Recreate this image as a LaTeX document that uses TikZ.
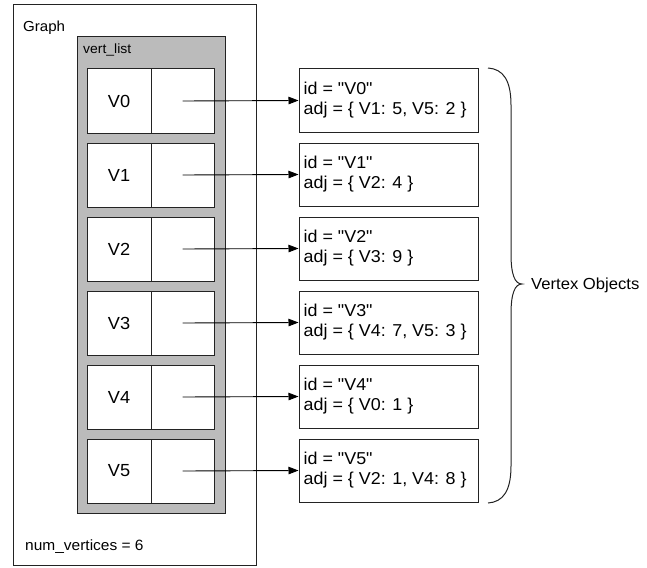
\documentclass[tikz,border=0pt]{standalone}
\usepackage{fontspec}
\setmainfont{Liberation Sans}[FakeStretch=1.04,Ligatures=TeXOff]
\usetikzlibrary{arrows.meta}
\definecolor{listgray}{RGB}{187,187,187}
\definecolor{edge}{RGB}{35,35,35}
\begin{document}
\begin{tikzpicture}[x=1pt,y=-1pt,
  box/.style={draw=edge,line width=1pt,rectangle,inner sep=0pt},
  cell/.style={box,fill=white,minimum height=64pt,font=\fontsize{17.5}{20}\selectfont},
  objbox/.style={box,fill=white,minimum width=179pt,minimum height=63pt},
  objtext/.style={anchor=west,inner sep=0pt,align=left,font=\fontsize{17.2}{20}\selectfont},
  ptr/.style={draw=black,line width=0.9pt,-{Triangle[length=10pt,width=7.5pt]}},
  lbl/.style={inner sep=0pt,anchor=base west}]
\useasboundingbox (0,0) rectangle (647,567);

% containers
\node[box,minimum width=243pt,minimum height=560pt] (graph) at (134.5,285) {};
\node[box,fill=listgray,minimum width=148pt,minimum height=476pt] (vlist) at (151,275) {};
\node[lbl,font=\fontsize{14.5}{16}\selectfont] (glabel) at (23,32) {Graph};
\node[lbl,font=\fontsize{13.4}{15}\selectfont] (vlabel) at (83,54) {vert\_list};
\node[lbl,font=\fontsize{14.9}{17}\selectfont] (nv) at (25,550) {num\_vertices = 6};

% vertex list cells, object boxes and pointers
\foreach \i/\adj in {0/{V1: 5, V5: 2},1/{V2: 4},2/{V3: 9},3/{V4: 7, V5: 3},4/{V0: 1},5/{V2: 1, V4: 8}} {
  \pgfmathsetmacro{\yy}{101+74*\i}
  \node[cell,minimum width=64pt] (c\i l) at (119,\yy) {V\i};
  \node[cell,minimum width=63pt] (c\i r) at (182.5,\yy) {};
  \node[objbox] (o\i) at (388.5,\yy-0.5) {};
  \node[objtext] (t\i) at ([xshift=5pt]o\i.west) {id = "V\i"\\adj = \{ \adj\ \}};
  \draw[ptr] (c\i r.center) -- (o\i.west);
}

% brace grouping the vertex objects
\coordinate (btop) at (488,68);
\coordinate (bbot) at (488,503);
\coordinate (btip) at (522,284);
\draw[edge,line width=1pt]
  (btop) .. controls (503,69) and (511,80) .. (511,105)
  -- (511,254) .. controls (511,275) and (515,284) .. (btip)
  .. controls (515,284) and (511,293) .. (511,314)
  -- (511,466) .. controls (511,491) and (503,502) .. (bbot);
\node[anchor=west,inner sep=0pt,font=\fontsize{16}{18}\selectfont] (vobj) at (531,285) {Vertex Objects};
\end{tikzpicture}
\end{document}
